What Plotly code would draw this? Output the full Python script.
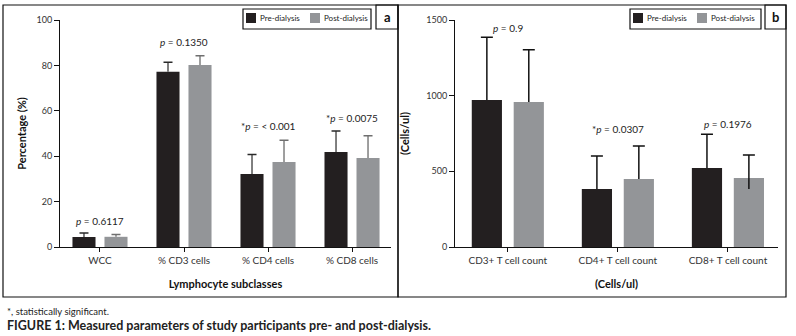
import plotly.graph_objects as go

# ---------------- data ----------------
cats_a = ["WCC", "% CD3 cells", "% CD4 cells", "% CD8 cells"]
pre_a = [4.4, 77.2, 32.2, 41.9]
pre_a_err = [1.8, 4.2, 8.6, 9.2]
post_a = [4.5, 80.2, 37.4, 39.2]
post_a_err = [1.0, 4.1, 9.6, 9.8]
p_a = ["<i>p</i> = 0.6117", "<i>p</i> = 0.1350", "*<i>p</i> = < 0.001", "*<i>p</i> = 0.0075"]

cats_b = ["CD3+ T cell count", "CD4+ T cell count", "CD8+ T cell count"]
pre_b = [971, 383, 522]
pre_b_err = [415, 218, 223]
post_b = [958, 449, 456]
post_b_err = [346, 218, 152]
post_b_err_minus = [0, 0, 73]   # whisker visible inside the CD8 post bar
p_b = ["<i>p</i> = 0.9", "*<i>p</i> = 0.0307", "<i>p</i> = 0.1976"]

ticks_a = [0, 20, 40, 60, 80, 100]
ticks_b = [0, 500, 1000, 1500]

PRE_C = "#231f20"
POST_C = "#939598"
FONT = "Lato, 'Open Sans', sans-serif"
W, H = 796, 336


def px(x):
    return x / W


def py(y):
    return 1 - y / H


fig = go.Figure()


def add_series(cats, vals, err, err_minus, name, color, group, xa, ya, line_col, cap_col, cap_w):
    # bar with the error whisker (no caps)
    fig.add_trace(go.Bar(x=cats, y=vals, name=name, marker_color=color, marker_line_width=0,
                         offsetgroup=group,
                         error_y=dict(type="data", array=err, symmetric=False, arrayminus=err_minus,
                                      color=line_col, thickness=1.5, width=0),
                         xaxis=xa, yaxis=ya, showlegend=False))
    # transparent bar reaching the top of the whisker, carrying only the cap
    tops = [v + e for v, e in zip(vals, err)]
    fig.add_trace(go.Bar(x=cats, y=tops, name=name, marker_color="rgba(0,0,0,0)", marker_line_width=0,
                         offsetgroup=group,
                         error_y=dict(type="data", array=[0] * len(cats), symmetric=False,
                                      arrayminus=[0] * len(cats), color=cap_col, thickness=1.5, width=cap_w),
                         xaxis=xa, yaxis=ya, showlegend=False, hoverinfo="skip"))


add_series(cats_a, pre_a, pre_a_err, [0] * 4, "Pre-dialysis", PRE_C, "pre", "x", "y", "#555555", "#2a2a2a", 4.5)
add_series(cats_a, post_a, post_a_err, [0] * 4, "Post-dialysis", POST_C, "post", "x", "y", "#7f7f7f", "#6f6f6f", 4.5)
add_series(cats_b, pre_b, pre_b_err, [0] * 3, "Pre-dialysis", PRE_C, "pre", "x2", "y2", "#111111", "#111111", 6)
add_series(cats_b, post_b, post_b_err, post_b_err_minus, "Post-dialysis", POST_C, "post", "x2", "y2", "#111111", "#111111", 6)

ytickfont = dict(family=FONT, size=9, color="#333")
xtickfont = dict(family=FONT, size=10, color="#333")
titlefont = dict(family=FONT, size=11, color="#111", weight="bold")

ydom = [py(247), py(20)]
fig.update_layout(
    template="none",
    width=W, height=H, margin=dict(l=0, r=0, t=0, b=0),
    paper_bgcolor="white", plot_bgcolor="white",
    barmode="group",
    font=dict(family=FONT),
    xaxis=dict(domain=[px(60), px(391)], range=[-0.476, 3.464], showline=True, linecolor="#111",
               linewidth=1, ticks="outside", ticklen=4, tickcolor="#111", tickfont=xtickfont,
               title=dict(text="Lymphocyte subclasses", font=titlefont, standoff=15),
               showgrid=False, zeroline=False, anchor="y"),
    yaxis=dict(domain=ydom, range=[0, 100], tickvals=ticks_a, showline=True, linecolor="#111",
               linewidth=1, ticks="outside", ticklen=5, tickcolor="#111", tickfont=ytickfont,
               title=dict(text="Percentage (%)", font=titlefont, standoff=7),
               showgrid=False, zeroline=False, anchor="x"),
    xaxis2=dict(domain=[px(455), px(778)], range=[-0.48, 2.455], showline=True, linecolor="#111",
                linewidth=1, ticks="outside", ticklen=4, tickcolor="#111", tickfont=xtickfont,
                title=dict(text="(Cells/ul)", font=titlefont, standoff=15),
                showgrid=False, zeroline=False, anchor="y2"),
    yaxis2=dict(domain=ydom, range=[0, 1500], tickvals=ticks_b, showline=True, linecolor="#111",
                linewidth=1, ticks="outside", ticklen=5, tickcolor="#111", tickfont=ytickfont,
                title=dict(text="(Cells/ul)", font=titlefont, standoff=14),
                showgrid=False, zeroline=False, anchor="x2"),
    bargap=0.238, bargroupgap=0.28,
)

# p-value annotations placed above the taller error bar of each category
ptxt_font = dict(family=FONT, size=10, color="#222")
shifts_a = [4, 6, 6, 5]
for c, t, a, ae, b, be, s in zip(cats_a, p_a, pre_a, pre_a_err, post_a, post_a_err, shifts_a):
    fig.add_annotation(x=c, y=max(a + ae, b + be), xref="x", yref="y", text=t, showarrow=False,
                       xanchor="center", yanchor="bottom", yshift=s, font=ptxt_font)
shifts_b = [1, 9, 2]
for c, t, a, ae, b, be, s in zip(cats_b, p_b, pre_b, pre_b_err, post_b, post_b_err, shifts_b):
    fig.add_annotation(x=c, y=max(a + ae, b + be), xref="x2", yref="y2", text=t, showarrow=False,
                       xanchor="center", yanchor="bottom", yshift=s, font=ptxt_font)

# panel frames and letter boxes
line = dict(color="#111", width=1.2)
for x0, x1 in [(3, 398), (398, 786)]:
    fig.add_shape(type="rect", xref="paper", yref="paper", x0=px(x0), x1=px(x1), y0=py(297), y1=py(5), line=line)
for x0, x1, lab in [(376, 398, "a"), (765, 786, "b")]:
    fig.add_shape(type="rect", xref="paper", yref="paper", x0=px(x0), x1=px(x1), y0=py(29), y1=py(5), line=line)
    fig.add_annotation(x=px((x0 + x1) / 2), y=py(17), xref="paper", yref="paper", text="<b>%s</b>" % lab,
                       showarrow=False, xanchor="center", yanchor="middle",
                       font=dict(family=FONT, size=13, color="#111"))

# legend boxes (manual)
leg_font = dict(family=FONT, size=8, color="#222")
for bx0, bx1 in [(243, 371), (630, 761)]:
    fig.add_shape(type="rect", xref="paper", yref="paper", x0=px(bx0), x1=px(bx1), y0=py(29), y1=py(9), line=line)
    items = [(bx0 + 3, "Pre-dialysis", PRE_C), (bx0 + 67, "Post-dialysis", POST_C)]
    for sx, name, col in items:
        fig.add_shape(type="rect", xref="paper", yref="paper", x0=px(sx), x1=px(sx + 10), y0=py(23), y1=py(13),
                      line=dict(width=0), fillcolor=col)
        fig.add_annotation(x=px(sx + 12), y=py(18), xref="paper", yref="paper", text=name, showarrow=False,
                           xanchor="left", yanchor="middle", font=leg_font)

# footnotes
fig.add_annotation(x=px(5), y=py(311), xref="paper", yref="paper", text="*, statistically significant.",
                   showarrow=False, xanchor="left", yanchor="middle", font=dict(family=FONT, size=9.5, color="#222"))
fig.add_annotation(x=px(5), y=py(325.5), xref="paper", yref="paper",
                   text="<b>FIGURE 1: Measured parameters of study participants pre- and post-dialysis.</b>",
                   showarrow=False, xanchor="left", yanchor="middle", font=dict(family=FONT, size=12.5, color="#222"))

fig.write_html("out.html", config={"displayModeBar": False},
               post_script="document.body.style.margin='0';document.body.style.overflow='hidden';")
